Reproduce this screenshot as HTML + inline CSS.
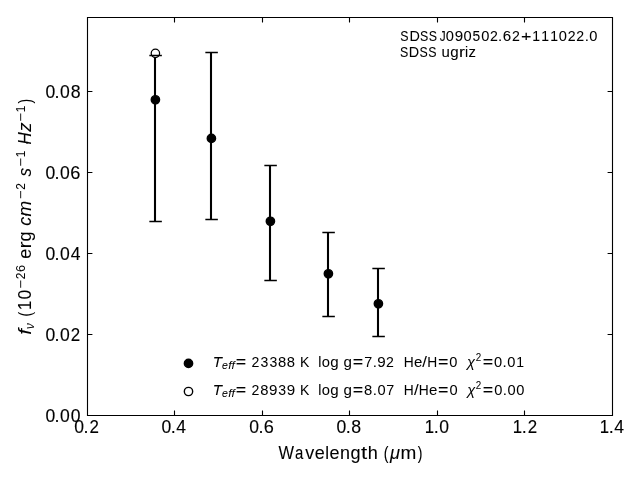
<!DOCTYPE html>
<html><head><meta charset="utf-8">
<style>
html,body{margin:0;padding:0;background:#fff;}
svg{display:block;will-change:transform;}
text{font-family:"Liberation Sans",sans-serif;fill:#000;white-space:pre;}
</style></head>
<body>
<svg width="640" height="480" viewBox="0 0 640 480">
<rect x="0" y="0" width="640" height="480" fill="#fff"/>

<g fill="none" stroke="#000" stroke-width="1.11">
<path d="M87.5 17.5H612.5V415.5H87.5Z"/>
<path d="M174.5 415.5V410.6M262.5 415.5V410.6M349.5 415.5V410.6M437.5 415.5V410.6M524.5 415.5V410.6"/>
<path d="M174.5 17.5V22.4M262.5 17.5V22.4M349.5 17.5V22.4M437.5 17.5V22.4M524.5 17.5V22.4"/>
<path d="M87.5 334.5H92.4M87.5 253.5H92.4M87.5 172.5H92.4M87.5 91.5H92.4"/>
<path d="M612.5 334.5H607.6M612.5 253.5H607.6M612.5 172.5H607.6M612.5 91.5H607.6"/>
</g>
<path d="M155.0 55.5V221.5M211.0 52.5V219.5M270.0 165.5V280.5M328.0 232.5V316.5M378.0 268.5V336.5" stroke="#000" stroke-width="2.08" fill="none"/>
<g fill="#000" stroke="#000" stroke-width="1.39"><circle cx="155.4" cy="99.8" r="4.17"/><circle cx="211.4" cy="138.4" r="4.17"/><circle cx="270.4" cy="221.3" r="4.17"/><circle cx="328.4" cy="273.8" r="4.17"/><circle cx="378.4" cy="303.8" r="4.17"/></g>
<circle cx="155.4" cy="53.3" r="4.2" fill="#fff" stroke="#000" stroke-width="1.25"/>
<path d="M149.35 55.5H161.85M149.35 221.5H161.85M205.35 52.5H217.85M205.35 219.5H217.85M264.35 165.5H276.85M264.35 280.5H276.85M322.35 232.5H334.85M322.35 316.5H334.85M372.35 268.5H384.85M372.35 336.5H384.85" stroke="#000" stroke-width="1.39" fill="none"/>
<circle cx="188.5" cy="363.4" r="4.17" fill="#000" stroke="#000" stroke-width="1.39"/>
<circle cx="188.5" cy="391.5" r="4.17" fill="none" stroke="#000" stroke-width="1.39"/>

<text stroke="#000" stroke-width="0.06"><tspan x="400.34" y="40.70" font-size="14.72" textLength="8.26" lengthAdjust="spacingAndGlyphs">S</tspan><tspan x="409.42" y="40.70" font-size="14.72" textLength="10.38" lengthAdjust="spacingAndGlyphs">D</tspan><tspan x="419.98" y="40.70" font-size="14.72" textLength="8.26" lengthAdjust="spacingAndGlyphs">S</tspan><tspan x="428.79" y="40.70" font-size="14.72" textLength="8.26" lengthAdjust="spacingAndGlyphs">S</tspan><tspan x="436.83" y="40.70" font-size="14.72"> </tspan><tspan x="439.69" y="40.70" font-size="14.72" textLength="5.89" lengthAdjust="spacingAndGlyphs">J</tspan><tspan x="445.85" y="40.70" font-size="14.72" textLength="8.14" lengthAdjust="spacingAndGlyphs">0</tspan><tspan x="454.70" y="40.70" font-size="14.72" textLength="8.41" lengthAdjust="spacingAndGlyphs">9</tspan><tspan x="463.45" y="40.70" font-size="14.72" textLength="8.14" lengthAdjust="spacingAndGlyphs">0</tspan><tspan x="472.44" y="40.70" font-size="14.72" textLength="7.68" lengthAdjust="spacingAndGlyphs">5</tspan><tspan x="481.13" y="40.70" font-size="14.72" textLength="8.14" lengthAdjust="spacingAndGlyphs">0</tspan><tspan x="490.03" y="40.70" font-size="14.72" textLength="7.85" lengthAdjust="spacingAndGlyphs">2</tspan><tspan x="498.07" y="40.70" font-size="14.72" textLength="4.18" lengthAdjust="spacingAndGlyphs">.</tspan><tspan x="502.75" y="40.70" font-size="14.72" textLength="8.43" lengthAdjust="spacingAndGlyphs">6</tspan><tspan x="511.89" y="40.70" font-size="14.72" textLength="7.85" lengthAdjust="spacingAndGlyphs">2</tspan><tspan x="520.90" y="40.70" font-size="14.72" textLength="10.45" lengthAdjust="spacingAndGlyphs">+</tspan><tspan x="532.21" y="40.70" font-size="14.72" textLength="7.78" lengthAdjust="spacingAndGlyphs">1</tspan><tspan x="541.22" y="40.70" font-size="14.72" textLength="7.78" lengthAdjust="spacingAndGlyphs">1</tspan><tspan x="550.14" y="40.70" font-size="14.72" textLength="7.78" lengthAdjust="spacingAndGlyphs">1</tspan><tspan x="558.72" y="40.70" font-size="14.72" textLength="8.14" lengthAdjust="spacingAndGlyphs">0</tspan><tspan x="567.68" y="40.70" font-size="14.72" textLength="7.85" lengthAdjust="spacingAndGlyphs">2</tspan><tspan x="576.35" y="40.70" font-size="14.72" textLength="7.85" lengthAdjust="spacingAndGlyphs">2</tspan><tspan x="584.88" y="40.70" font-size="14.72" textLength="4.18" lengthAdjust="spacingAndGlyphs">.</tspan><tspan x="589.34" y="40.70" font-size="14.72" textLength="8.14" lengthAdjust="spacingAndGlyphs">0</tspan></text>
<text stroke="#000" stroke-width="0.06"><tspan x="400.04" y="56.70" font-size="14.72" textLength="8.26" lengthAdjust="spacingAndGlyphs">S</tspan><tspan x="408.69" y="56.70" font-size="14.72" textLength="10.38" lengthAdjust="spacingAndGlyphs">D</tspan><tspan x="419.55" y="56.70" font-size="14.72" textLength="8.26" lengthAdjust="spacingAndGlyphs">S</tspan><tspan x="428.36" y="56.70" font-size="14.72" textLength="8.26" lengthAdjust="spacingAndGlyphs">S</tspan><tspan x="436.83" y="56.70" font-size="14.72"> </tspan><tspan x="441.45" y="56.70" font-size="14.72" textLength="8.33" lengthAdjust="spacingAndGlyphs">u</tspan><tspan x="450.18" y="56.70" font-size="14.72" textLength="8.40" lengthAdjust="spacingAndGlyphs">g</tspan><tspan x="458.94" y="56.70" font-size="14.72" textLength="5.93" lengthAdjust="spacingAndGlyphs">r</tspan><tspan x="464.93" y="56.70" font-size="14.72" textLength="3.15" lengthAdjust="spacingAndGlyphs">i</tspan><tspan x="468.42" y="56.70" font-size="14.72" textLength="7.44" lengthAdjust="spacingAndGlyphs">z</tspan></text>
<text stroke="#000" stroke-width="0.12"><tspan x="74.31" y="432.50" font-size="17.67" textLength="9.77" lengthAdjust="spacingAndGlyphs">0</tspan><tspan x="83.51" y="432.50" font-size="17.67" textLength="5.01" lengthAdjust="spacingAndGlyphs">.</tspan><tspan x="89.50" y="432.50" font-size="17.67" textLength="9.42" lengthAdjust="spacingAndGlyphs">2</tspan></text>
<text stroke="#000" stroke-width="0.12"><tspan x="161.50" y="432.50" font-size="17.67" textLength="9.77" lengthAdjust="spacingAndGlyphs">0</tspan><tspan x="170.66" y="432.50" font-size="17.67" textLength="5.01" lengthAdjust="spacingAndGlyphs">.</tspan><tspan x="176.16" y="432.50" font-size="17.67" textLength="9.77" lengthAdjust="spacingAndGlyphs">4</tspan></text>
<text stroke="#000" stroke-width="0.12"><tspan x="249.31" y="432.50" font-size="17.67" textLength="9.77" lengthAdjust="spacingAndGlyphs">0</tspan><tspan x="258.51" y="432.50" font-size="17.67" textLength="5.01" lengthAdjust="spacingAndGlyphs">.</tspan><tspan x="263.81" y="432.50" font-size="17.67" textLength="10.11" lengthAdjust="spacingAndGlyphs">6</tspan></text>
<text stroke="#000" stroke-width="0.12"><tspan x="336.50" y="432.50" font-size="17.67" textLength="9.77" lengthAdjust="spacingAndGlyphs">0</tspan><tspan x="345.66" y="432.50" font-size="17.67" textLength="5.01" lengthAdjust="spacingAndGlyphs">.</tspan><tspan x="351.17" y="432.50" font-size="17.67" textLength="9.88" lengthAdjust="spacingAndGlyphs">8</tspan></text>
<text stroke="#000" stroke-width="0.12"><tspan x="424.72" y="432.50" font-size="17.67" textLength="9.33" lengthAdjust="spacingAndGlyphs">1</tspan><tspan x="433.71" y="432.50" font-size="17.67" textLength="5.01" lengthAdjust="spacingAndGlyphs">.</tspan><tspan x="439.33" y="432.50" font-size="17.67" textLength="9.77" lengthAdjust="spacingAndGlyphs">0</tspan></text>
<text stroke="#000" stroke-width="0.12"><tspan x="512.64" y="432.50" font-size="17.67" textLength="9.33" lengthAdjust="spacingAndGlyphs">1</tspan><tspan x="521.86" y="432.50" font-size="17.67" textLength="5.01" lengthAdjust="spacingAndGlyphs">.</tspan><tspan x="527.69" y="432.50" font-size="17.67" textLength="9.42" lengthAdjust="spacingAndGlyphs">2</tspan></text>
<text stroke="#000" stroke-width="0.12"><tspan x="599.72" y="432.50" font-size="17.67" textLength="9.33" lengthAdjust="spacingAndGlyphs">1</tspan><tspan x="608.71" y="432.50" font-size="17.67" textLength="5.01" lengthAdjust="spacingAndGlyphs">.</tspan><tspan x="614.26" y="432.50" font-size="17.67" textLength="9.77" lengthAdjust="spacingAndGlyphs">4</tspan></text>
<text stroke="#000" stroke-width="0.12"><tspan x="45.40" y="421.55" font-size="17.67" textLength="9.77" lengthAdjust="spacingAndGlyphs">0</tspan><tspan x="54.52" y="421.55" font-size="17.67" textLength="5.01" lengthAdjust="spacingAndGlyphs">.</tspan><tspan x="60.11" y="421.55" font-size="17.67" textLength="9.77" lengthAdjust="spacingAndGlyphs">0</tspan><tspan x="70.77" y="421.55" font-size="17.67" textLength="9.77" lengthAdjust="spacingAndGlyphs">0</tspan></text>
<text stroke="#000" stroke-width="0.12"><tspan x="45.40" y="340.58" font-size="17.67" textLength="9.77" lengthAdjust="spacingAndGlyphs">0</tspan><tspan x="54.52" y="340.58" font-size="17.67" textLength="5.01" lengthAdjust="spacingAndGlyphs">.</tspan><tspan x="60.11" y="340.58" font-size="17.67" textLength="9.77" lengthAdjust="spacingAndGlyphs">0</tspan><tspan x="70.73" y="340.58" font-size="17.67" textLength="9.42" lengthAdjust="spacingAndGlyphs">2</tspan></text>
<text stroke="#000" stroke-width="0.12"><tspan x="45.40" y="259.60" font-size="17.67" textLength="9.77" lengthAdjust="spacingAndGlyphs">0</tspan><tspan x="54.52" y="259.60" font-size="17.67" textLength="5.01" lengthAdjust="spacingAndGlyphs">.</tspan><tspan x="60.11" y="259.60" font-size="17.67" textLength="9.77" lengthAdjust="spacingAndGlyphs">0</tspan><tspan x="70.77" y="259.60" font-size="17.67" textLength="9.77" lengthAdjust="spacingAndGlyphs">4</tspan></text>
<text stroke="#000" stroke-width="0.12"><tspan x="45.40" y="178.63" font-size="17.67" textLength="9.77" lengthAdjust="spacingAndGlyphs">0</tspan><tspan x="54.52" y="178.63" font-size="17.67" textLength="5.01" lengthAdjust="spacingAndGlyphs">.</tspan><tspan x="60.11" y="178.63" font-size="17.67" textLength="9.77" lengthAdjust="spacingAndGlyphs">0</tspan><tspan x="70.33" y="178.63" font-size="17.67" textLength="10.11" lengthAdjust="spacingAndGlyphs">6</tspan></text>
<text stroke="#000" stroke-width="0.12"><tspan x="45.40" y="97.65" font-size="17.67" textLength="9.77" lengthAdjust="spacingAndGlyphs">0</tspan><tspan x="54.52" y="97.65" font-size="17.67" textLength="5.01" lengthAdjust="spacingAndGlyphs">.</tspan><tspan x="60.11" y="97.65" font-size="17.67" textLength="9.77" lengthAdjust="spacingAndGlyphs">0</tspan><tspan x="70.68" y="97.65" font-size="17.67" textLength="9.88" lengthAdjust="spacingAndGlyphs">8</tspan></text>
<text stroke="#000" stroke-width="0.08"><tspan x="278.53" y="458.90" font-size="17.67" textLength="15.51" lengthAdjust="spacingAndGlyphs">W</tspan><tspan x="294.89" y="458.90" font-size="17.67" textLength="8.34" lengthAdjust="spacingAndGlyphs">a</tspan><tspan x="305.17" y="458.90" font-size="17.67" textLength="8.99" lengthAdjust="spacingAndGlyphs">v</tspan><tspan x="314.76" y="458.90" font-size="17.67" textLength="10.01" lengthAdjust="spacingAndGlyphs">e</tspan><tspan x="325.28" y="458.90" font-size="17.67" textLength="3.79" lengthAdjust="spacingAndGlyphs">l</tspan><tspan x="329.64" y="458.90" font-size="17.67" textLength="10.01" lengthAdjust="spacingAndGlyphs">e</tspan><tspan x="340.06" y="458.90" font-size="17.67" textLength="9.99" lengthAdjust="spacingAndGlyphs">n</tspan><tspan x="350.46" y="458.90" font-size="17.67" textLength="10.07" lengthAdjust="spacingAndGlyphs">g</tspan><tspan x="360.99" y="458.90" font-size="17.67" textLength="6.19" lengthAdjust="spacingAndGlyphs">t</tspan><tspan x="367.68" y="458.90" font-size="17.67" textLength="10.06" lengthAdjust="spacingAndGlyphs">h</tspan><tspan x="377.98" y="458.90" font-size="17.67"> </tspan><tspan x="383.84" y="458.90" font-size="17.67" textLength="4.69" lengthAdjust="spacingAndGlyphs">(</tspan><tspan x="389.94" y="458.90" font-size="17.67" font-style="italic" textLength="9.99" lengthAdjust="spacingAndGlyphs">μ</tspan><tspan x="400.64" y="458.90" font-size="17.67" textLength="15.82" lengthAdjust="spacingAndGlyphs">m</tspan><tspan x="417.87" y="458.90" font-size="17.67" textLength="4.69" lengthAdjust="spacingAndGlyphs">)</tspan></text>
<g transform="translate(30.9 335.24) rotate(-90)"><text stroke="#000" stroke-width="0.04"><tspan x="0.43" y="0.00" font-size="17.67" font-style="italic" textLength="5.75" lengthAdjust="spacingAndGlyphs">f</tspan><tspan x="6.36" y="2.73" font-size="12.37" font-style="italic" textLength="5.72" lengthAdjust="spacingAndGlyphs">ν</tspan><tspan x="12.84" y="0.00" font-size="17.67"> </tspan><tspan x="18.70" y="0.00" font-size="17.67" textLength="4.69" lengthAdjust="spacingAndGlyphs">(</tspan><tspan x="25.19" y="0.00" font-size="17.67" textLength="9.33" lengthAdjust="spacingAndGlyphs">1</tspan><tspan x="35.66" y="0.00" font-size="17.67" textLength="9.77" lengthAdjust="spacingAndGlyphs">0</tspan><tspan x="46.50" y="-6.38" font-size="12.37" textLength="8.78" lengthAdjust="spacingAndGlyphs">−</tspan><tspan x="56.04" y="-6.38" font-size="12.37" textLength="6.59" lengthAdjust="spacingAndGlyphs">2</tspan><tspan x="63.37" y="-6.38" font-size="12.37" textLength="7.08" lengthAdjust="spacingAndGlyphs">6</tspan><tspan x="71.08" y="0.00" font-size="17.67"> </tspan><tspan x="76.54" y="0.00" font-size="17.67" textLength="10.01" lengthAdjust="spacingAndGlyphs">e</tspan><tspan x="86.73" y="0.00" font-size="17.67" textLength="7.11" lengthAdjust="spacingAndGlyphs">r</tspan><tspan x="93.65" y="0.00" font-size="17.67" textLength="10.07" lengthAdjust="spacingAndGlyphs">g</tspan><tspan x="104.07" y="0.00" font-size="17.67"> </tspan><tspan x="109.54" y="0.00" font-size="17.67" font-style="italic" textLength="8.96" lengthAdjust="spacingAndGlyphs">c</tspan><tspan x="118.80" y="0.00" font-size="17.67" font-style="italic" textLength="15.70" lengthAdjust="spacingAndGlyphs">m</tspan><tspan x="136.03" y="-6.38" font-size="12.37" textLength="8.78" lengthAdjust="spacingAndGlyphs">−</tspan><tspan x="145.57" y="-6.38" font-size="12.37" textLength="6.59" lengthAdjust="spacingAndGlyphs">2</tspan><tspan x="153.19" y="0.00" font-size="17.67"> </tspan><tspan x="158.64" y="0.00" font-size="17.67" font-style="italic" textLength="8.54" lengthAdjust="spacingAndGlyphs">s</tspan><tspan x="168.44" y="-6.38" font-size="12.37" textLength="8.78" lengthAdjust="spacingAndGlyphs">−</tspan><tspan x="178.11" y="-6.38" font-size="12.37" textLength="6.53" lengthAdjust="spacingAndGlyphs">1</tspan><tspan x="185.60" y="0.00" font-size="17.67"> </tspan><tspan x="190.83" y="0.00" font-size="17.67" font-style="italic" textLength="12.14" lengthAdjust="spacingAndGlyphs">H</tspan><tspan x="203.49" y="0.00" font-size="17.67" font-style="italic" textLength="9.24" lengthAdjust="spacingAndGlyphs">z</tspan><tspan x="213.42" y="-6.38" font-size="12.37" textLength="8.78" lengthAdjust="spacingAndGlyphs">−</tspan><tspan x="223.09" y="-6.38" font-size="12.37" textLength="6.53" lengthAdjust="spacingAndGlyphs">1</tspan><tspan x="231.83" y="0.00" font-size="17.67" textLength="4.69" lengthAdjust="spacingAndGlyphs">)</tspan></text></g>
<text stroke="#000" stroke-width="0.03"><tspan x="212.74" y="366.80" font-size="14.72" font-style="italic" textLength="9.26" lengthAdjust="spacingAndGlyphs">T</tspan><tspan x="222.08" y="369.08" font-size="10.31" font-style="italic" textLength="5.85" lengthAdjust="spacingAndGlyphs">e</tspan><tspan x="228.22" y="369.08" font-size="10.31" font-style="italic" textLength="3.35" lengthAdjust="spacingAndGlyphs">f</tspan><tspan x="231.64" y="369.08" font-size="10.31" font-style="italic" textLength="3.35" lengthAdjust="spacingAndGlyphs">f</tspan><tspan x="235.79" y="366.80" font-size="14.72" textLength="10.45" lengthAdjust="spacingAndGlyphs">=</tspan><tspan x="246.83" y="366.80" font-size="14.72"> </tspan><tspan x="251.55" y="366.80" font-size="14.72" textLength="7.85" lengthAdjust="spacingAndGlyphs">2</tspan><tspan x="260.60" y="366.80" font-size="14.72" textLength="7.82" lengthAdjust="spacingAndGlyphs">3</tspan><tspan x="269.44" y="366.80" font-size="14.72" textLength="7.82" lengthAdjust="spacingAndGlyphs">3</tspan><tspan x="278.06" y="366.80" font-size="14.72" textLength="8.23" lengthAdjust="spacingAndGlyphs">8</tspan><tspan x="286.89" y="366.80" font-size="14.72" textLength="8.23" lengthAdjust="spacingAndGlyphs">8</tspan><tspan x="295.43" y="366.80" font-size="14.72"> </tspan><tspan x="300.06" y="366.80" font-size="14.72" textLength="9.34" lengthAdjust="spacingAndGlyphs">K</tspan><tspan x="308.95" y="366.80" font-size="14.72"> </tspan><tspan x="313.37" y="366.80" font-size="14.72"> </tspan><tspan x="318.13" y="366.80" font-size="14.72" textLength="3.15" lengthAdjust="spacingAndGlyphs">l</tspan><tspan x="321.79" y="366.80" font-size="14.72" textLength="8.21" lengthAdjust="spacingAndGlyphs">o</tspan><tspan x="330.27" y="366.80" font-size="14.72" textLength="8.40" lengthAdjust="spacingAndGlyphs">g</tspan><tspan x="338.95" y="366.80" font-size="14.72"> </tspan><tspan x="343.50" y="366.80" font-size="14.72" textLength="8.40" lengthAdjust="spacingAndGlyphs">g</tspan><tspan x="352.78" y="366.80" font-size="14.72" textLength="10.45" lengthAdjust="spacingAndGlyphs">=</tspan><tspan x="364.23" y="366.80" font-size="14.72" textLength="7.96" lengthAdjust="spacingAndGlyphs">7</tspan><tspan x="372.77" y="366.80" font-size="14.72" textLength="4.18" lengthAdjust="spacingAndGlyphs">.</tspan><tspan x="377.24" y="366.80" font-size="14.72" textLength="8.41" lengthAdjust="spacingAndGlyphs">9</tspan><tspan x="386.04" y="366.80" font-size="14.72" textLength="7.85" lengthAdjust="spacingAndGlyphs">2</tspan><tspan x="394.57" y="366.80" font-size="14.72"> </tspan><tspan x="398.99" y="366.80" font-size="14.72"> </tspan><tspan x="403.63" y="366.80" font-size="14.72" textLength="9.98" lengthAdjust="spacingAndGlyphs">H</tspan><tspan x="413.98" y="366.80" font-size="14.72" textLength="8.34" lengthAdjust="spacingAndGlyphs">e</tspan><tspan x="422.39" y="366.80" font-size="14.72" textLength="4.68" lengthAdjust="spacingAndGlyphs">/</tspan><tspan x="427.13" y="366.80" font-size="14.72" textLength="9.98" lengthAdjust="spacingAndGlyphs">H</tspan><tspan x="437.94" y="366.80" font-size="14.72" textLength="10.45" lengthAdjust="spacingAndGlyphs">=</tspan><tspan x="449.32" y="366.80" font-size="14.72" textLength="8.14" lengthAdjust="spacingAndGlyphs">0</tspan><tspan x="457.81" y="366.80" font-size="14.72"> </tspan><tspan x="462.23" y="366.80" font-size="14.72"> </tspan><tspan x="467.09" y="366.80" font-size="14.72" font-style="italic" textLength="8.00" lengthAdjust="spacingAndGlyphs">χ</tspan><tspan x="475.70" y="361.48" font-size="10.31" textLength="5.49" lengthAdjust="spacingAndGlyphs">2</tspan><tspan x="482.65" y="366.80" font-size="14.72" textLength="10.45" lengthAdjust="spacingAndGlyphs">=</tspan><tspan x="494.03" y="366.80" font-size="14.72" textLength="8.14" lengthAdjust="spacingAndGlyphs">0</tspan><tspan x="502.64" y="366.80" font-size="14.72" textLength="4.18" lengthAdjust="spacingAndGlyphs">.</tspan><tspan x="507.28" y="366.80" font-size="14.72" textLength="8.14" lengthAdjust="spacingAndGlyphs">0</tspan><tspan x="516.24" y="366.80" font-size="14.72" textLength="7.78" lengthAdjust="spacingAndGlyphs">1</tspan></text>
<text stroke="#000" stroke-width="0.03"><tspan x="212.74" y="394.80" font-size="14.72" font-style="italic" textLength="9.26" lengthAdjust="spacingAndGlyphs">T</tspan><tspan x="222.08" y="397.08" font-size="10.31" font-style="italic" textLength="5.85" lengthAdjust="spacingAndGlyphs">e</tspan><tspan x="228.22" y="397.08" font-size="10.31" font-style="italic" textLength="3.35" lengthAdjust="spacingAndGlyphs">f</tspan><tspan x="231.64" y="397.08" font-size="10.31" font-style="italic" textLength="3.35" lengthAdjust="spacingAndGlyphs">f</tspan><tspan x="235.79" y="394.80" font-size="14.72" textLength="10.45" lengthAdjust="spacingAndGlyphs">=</tspan><tspan x="246.83" y="394.80" font-size="14.72"> </tspan><tspan x="251.55" y="394.80" font-size="14.72" textLength="7.85" lengthAdjust="spacingAndGlyphs">2</tspan><tspan x="260.38" y="394.80" font-size="14.72" textLength="8.23" lengthAdjust="spacingAndGlyphs">8</tspan><tspan x="269.09" y="394.80" font-size="14.72" textLength="8.41" lengthAdjust="spacingAndGlyphs">9</tspan><tspan x="278.28" y="394.80" font-size="14.72" textLength="7.82" lengthAdjust="spacingAndGlyphs">3</tspan><tspan x="286.76" y="394.80" font-size="14.72" textLength="8.41" lengthAdjust="spacingAndGlyphs">9</tspan><tspan x="295.43" y="394.80" font-size="14.72"> </tspan><tspan x="300.06" y="394.80" font-size="14.72" textLength="9.34" lengthAdjust="spacingAndGlyphs">K</tspan><tspan x="308.95" y="394.80" font-size="14.72"> </tspan><tspan x="313.37" y="394.80" font-size="14.72"> </tspan><tspan x="318.13" y="394.80" font-size="14.72" textLength="3.15" lengthAdjust="spacingAndGlyphs">l</tspan><tspan x="321.79" y="394.80" font-size="14.72" textLength="8.21" lengthAdjust="spacingAndGlyphs">o</tspan><tspan x="330.27" y="394.80" font-size="14.72" textLength="8.40" lengthAdjust="spacingAndGlyphs">g</tspan><tspan x="338.95" y="394.80" font-size="14.72"> </tspan><tspan x="343.50" y="394.80" font-size="14.72" textLength="8.40" lengthAdjust="spacingAndGlyphs">g</tspan><tspan x="352.78" y="394.80" font-size="14.72" textLength="10.45" lengthAdjust="spacingAndGlyphs">=</tspan><tspan x="364.12" y="394.80" font-size="14.72" textLength="8.23" lengthAdjust="spacingAndGlyphs">8</tspan><tspan x="372.77" y="394.80" font-size="14.72" textLength="4.18" lengthAdjust="spacingAndGlyphs">.</tspan><tspan x="377.42" y="394.80" font-size="14.72" textLength="8.14" lengthAdjust="spacingAndGlyphs">0</tspan><tspan x="386.31" y="394.80" font-size="14.72" textLength="7.96" lengthAdjust="spacingAndGlyphs">7</tspan><tspan x="394.75" y="394.80" font-size="14.72"> </tspan><tspan x="399.16" y="394.80" font-size="14.72"> </tspan><tspan x="403.81" y="394.80" font-size="14.72" textLength="9.98" lengthAdjust="spacingAndGlyphs">H</tspan><tspan x="414.02" y="394.80" font-size="14.72" textLength="4.68" lengthAdjust="spacingAndGlyphs">/</tspan><tspan x="418.76" y="394.80" font-size="14.72" textLength="9.98" lengthAdjust="spacingAndGlyphs">H</tspan><tspan x="429.10" y="394.80" font-size="14.72" textLength="8.34" lengthAdjust="spacingAndGlyphs">e</tspan><tspan x="438.11" y="394.80" font-size="14.72" textLength="10.45" lengthAdjust="spacingAndGlyphs">=</tspan><tspan x="449.50" y="394.80" font-size="14.72" textLength="8.14" lengthAdjust="spacingAndGlyphs">0</tspan><tspan x="457.99" y="394.80" font-size="14.72"> </tspan><tspan x="462.40" y="394.80" font-size="14.72"> </tspan><tspan x="467.27" y="394.80" font-size="14.72" font-style="italic" textLength="8.00" lengthAdjust="spacingAndGlyphs">χ</tspan><tspan x="475.87" y="389.48" font-size="10.31" textLength="5.49" lengthAdjust="spacingAndGlyphs">2</tspan><tspan x="482.82" y="394.80" font-size="14.72" textLength="10.45" lengthAdjust="spacingAndGlyphs">=</tspan><tspan x="494.20" y="394.80" font-size="14.72" textLength="8.14" lengthAdjust="spacingAndGlyphs">0</tspan><tspan x="502.81" y="394.80" font-size="14.72" textLength="4.18" lengthAdjust="spacingAndGlyphs">.</tspan><tspan x="507.46" y="394.80" font-size="14.72" textLength="8.14" lengthAdjust="spacingAndGlyphs">0</tspan><tspan x="516.29" y="394.80" font-size="14.72" textLength="8.14" lengthAdjust="spacingAndGlyphs">0</tspan></text>
</svg>
</body></html>
